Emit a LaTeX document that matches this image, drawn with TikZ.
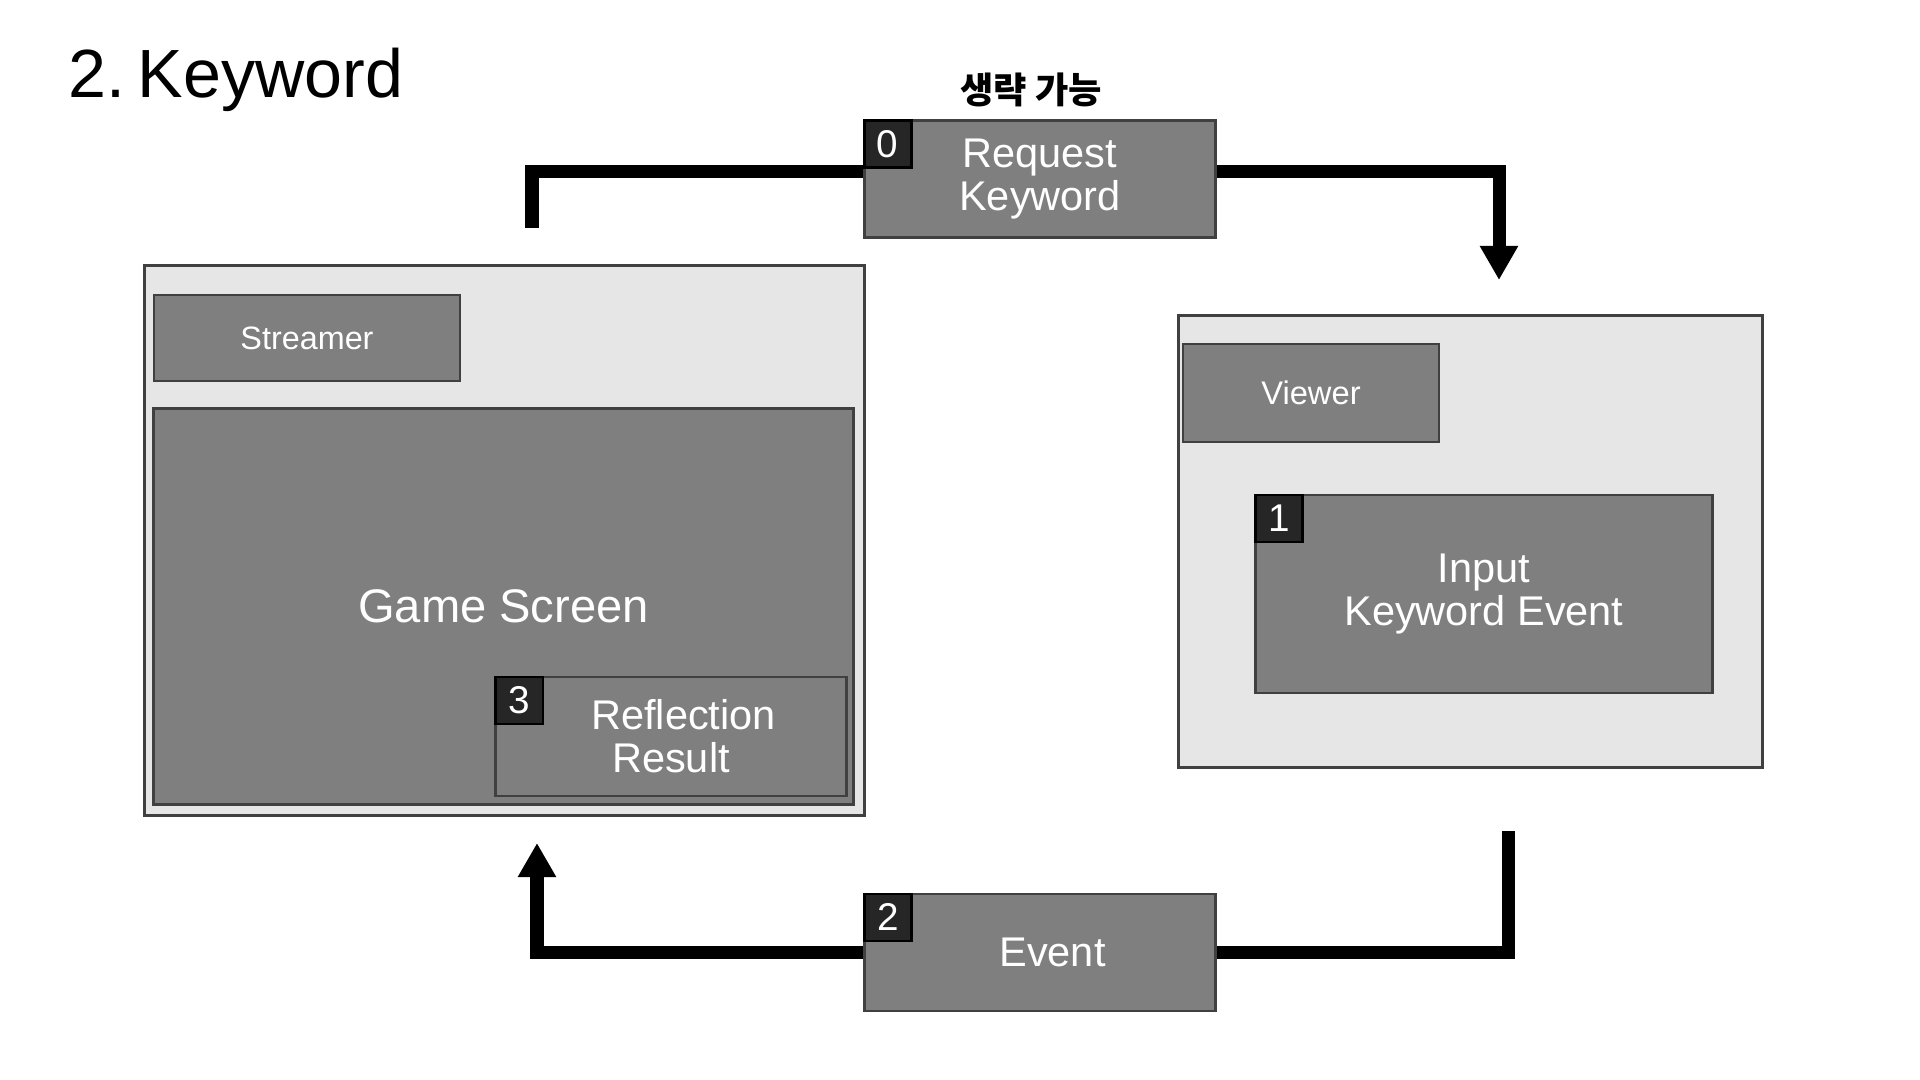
\documentclass[tikz,border=0pt]{standalone}
\usepackage{fontspec}
\setmainfont{Liberation Sans}
\newfontfamily\kofont{Noto Sans CJK KR}
\usetikzlibrary{arrows.meta,positioning}
\definecolor{boxgray}{HTML}{7F7F7F}
\definecolor{panelgray}{HTML}{E6E6E6}
\definecolor{edgegray}{HTML}{404040}
\definecolor{badgeblack}{HTML}{262626}

\begin{document}
\begin{tikzpicture}[x=0.01cm,y=-0.01cm,>={Triangle[width=0.36cm,length=0.34cm]},
  panel/.style={rectangle,draw=edgegray,fill=panelgray,line width=0.8pt,inner sep=0pt},
  grey box/.style={rectangle,draw=edgegray,fill=boxgray,line width=0.8pt,inner sep=0pt,text=white,align=center,font=\fontsize{11.8}{12.2}\selectfont},
  badge/.style={rectangle,draw=black,fill=badgeblack,line width=0.8pt,minimum size=0.47cm,inner sep=0pt,text=white,font=\fontsize{11}{11}\selectfont,anchor=north west},
  flow/.style={line width=0.13cm}]

  \useasboundingbox (0,0) rectangle (1920,1080);

  \node[anchor=base west,inner sep=0pt,font=\fontsize{19.4}{19.4}\selectfont] (title) at (68,98) {2.\hspace{0.18em}Keyword};

  % streamer side
  \node[panel,minimum width=7.2cm,minimum height=5.5cm] (streamside) at (504.5,540.6) {};
  \node[grey box,minimum width=3.06cm,minimum height=0.86cm,font=\fontsize{9.2}{9.2}\selectfont] (streamer) at (307,338) {Streamer};
  \node[grey box,minimum width=6.99cm,minimum height=3.955cm,font=\fontsize{13.4}{13.4}\selectfont] (game) at (503.5,606.75) {Game Screen};
  \node[grey box,minimum width=3.5cm,minimum height=1.19cm] (result) at (671,736.5) {\hspace{0.25cm}Reflection\\Result};
  \node[badge] (n3) at (result.north west) {3};

  % viewer side
  \node[panel,minimum width=5.83cm,minimum height=4.51cm] (viewside) at (1470.5,541.5) {};
  \node[grey box,minimum width=2.56cm,minimum height=0.98cm,font=\fontsize{9.3}{9.3}\selectfont] (viewer) at (1311,393) {Viewer};
  \node[grey box,minimum width=4.56cm,minimum height=1.98cm] (input) at (1484,594) {Input\\Keyword Event};
  \node[badge] (n1) at (input.north west) {1};

  % steps between
  \node[font={\kofont\fontsize{10.3}{10.3}\selectfont\bfseries}] (optional) at (1031,90) {생략 가능};
  \node[grey box,minimum width=3.515cm,minimum height=1.175cm] (request) at (1040,179) {Request\\Keyword};
  \node[badge] (n0) at (request.north west) {0};
  \node[grey box,minimum width=3.505cm,minimum height=1.17cm] (event) at (1040,952.5) {\hspace{0.25cm}Event};
  \node[badge] (n2) at (event.north west) {2};

  \coordinate (out1) at (532,228);
  \coordinate (in1) at (1499,280);
  \coordinate (out2) at (1508,831);
  \coordinate (in2) at (537,843);

  \draw[flow] (out1) |- ([yshift=0.07cm]request.west);
  \draw[flow,->] ([yshift=0.07cm]request.east) -| (in1);
  \draw[flow] (out2) |- (event.east);
  \draw[flow,->] (event.west) -| (in2);
\end{tikzpicture}
\end{document}
